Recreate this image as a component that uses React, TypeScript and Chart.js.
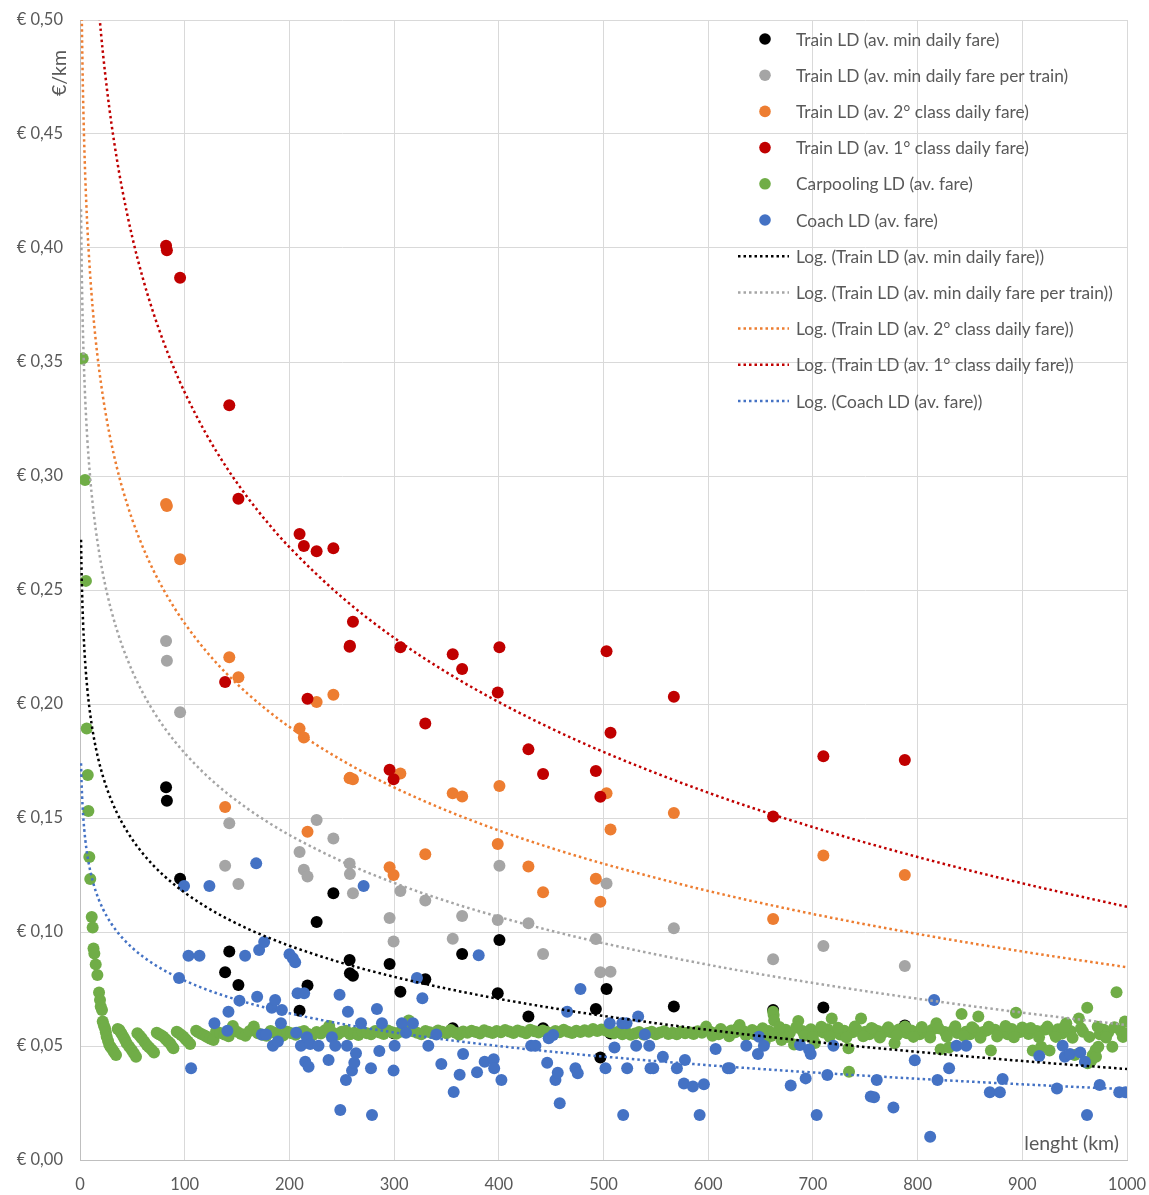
import React, { useEffect, useRef } from "react";
import { Chart, registerables } from "chart.js";

Chart.register(...registerables);

// ---------- DATA ----------
const trainKm = [82.2, 83.0, 95.6, 138.6, 142.6, 151.3, 209.7, 213.8, 217.3, 226.0, 242.0, 257.5, 257.8, 260.7, 295.7, 299.5, 306.0, 329.8, 356.0, 365.0, 399.0, 400.6, 428.3, 442.3, 492.7, 497.0, 502.9, 506.7, 567.2, 662.0, 710.0, 787.8];

const trainMinFare = [0.1635, 0.1576, 0.1234, 0.0823, 0.0914, 0.0768, 0.0655, 0.056, 0.0765, 0.1044, 0.117, 0.0877, 0.0819, 0.0808, 0.086, 0.0556, 0.0738, 0.0793, 0.0578, 0.0904, 0.0731, 0.0965, 0.0629, 0.0578, 0.0662, 0.045, 0.075, 0.0555, 0.0673, 0.0658, 0.0669, 0.059];

const trainMinFarePerTrain = [0.2276, 0.219, 0.1964, 0.1291, 0.1477, 0.1211, 0.1351, 0.1273, 0.1243, 0.1491, 0.141, 0.13, 0.1254, 0.117, 0.1061, 0.0958, 0.118, 0.1138, 0.097, 0.107, 0.1053, 0.1291, 0.1038, 0.0904, 0.0969, 0.0823, 0.1213, 0.0826, 0.1016, 0.088, 0.0939, 0.0851];

const train2ndClassFare = [0.2877, 0.2868, 0.2635, 0.1548, 0.2205, 0.2117, 0.1892, 0.1853, 0.144, 0.2009, 0.2041, 0.1674, 0.1676, 0.167, 0.1284, 0.125, 0.1695, 0.1341, 0.1609, 0.1594, 0.1386, 0.164, 0.1287, 0.1174, 0.1234, 0.1133, 0.1609, 0.145, 0.1522, 0.1057, 0.1336, 0.125];

const train1stClassFare = [0.401, 0.399, 0.387, 0.2096, 0.331, 0.29, 0.2746, 0.2693, 0.2023, 0.267, 0.2683, 0.2251, 0.2255, 0.2361, 0.1712, 0.167, 0.2249, 0.1914, 0.2218, 0.2154, 0.205, 0.2249, 0.1801, 0.1693, 0.1706, 0.1593, 0.2231, 0.1874, 0.2032, 0.1507, 0.1771, 0.1754];

const carpoolPoints: [number, number][] = [
  [2.6, 0.3515], [4.8, 0.2982], [5.7, 0.254], [6.4, 0.1893], [7.4, 0.1689], [8.0, 0.1531], [8.9, 0.1329], [9.8, 0.1232],
  [11.2, 0.1066], [12.1, 0.102], [12.9, 0.0928], [13.7, 0.0906], [15, 0.0858], [16.6, 0.0811], [18.2, 0.0735], [19.1, 0.0702],
  [19.8, 0.0673], [21.0, 0.0658], [21.7, 0.0607], [22.8, 0.059], [23.9, 0.0578], [24.7, 0.056], [25.5, 0.0541], [26.8, 0.0522],
  [28, 0.0504], [29.6, 0.0493], [31.3, 0.0482], [32.8, 0.0472], [34.4, 0.0461], [36.0, 0.0575], [37.6, 0.057], [39.5, 0.0556],
  [41.4, 0.0541], [43, 0.0527], [44.6, 0.0512], [47, 0.0497], [49.4, 0.0482], [51.5, 0.0468], [53.5, 0.0453], [54.8, 0.0556],
  [57, 0.0545], [59, 0.0534], [61.5, 0.0519], [63.8, 0.0504], [66, 0.0494], [68.5, 0.0483], [70.7, 0.0472], [73.3, 0.0558],
  [75.5, 0.0552], [77.5, 0.0547], [79.6, 0.0541], [82, 0.053], [84, 0.052], [86, 0.0512], [87.6, 0.05], [89.2, 0.049],
  [92.4, 0.0563], [94.5, 0.0556], [96.7, 0.0548], [98.8, 0.0541], [101, 0.053], [103, 0.052], [105.2, 0.0509], [110.9, 0.0567],
  [113, 0.056], [116, 0.0553], [119, 0.0546], [121, 0.0541], [124, 0.0533], [127.5, 0.0526],
  [130, 0.0565], [134, 0.0557], [138, 0.055], [142, 0.0543], [146, 0.0588], [150, 0.0562], [154, 0.0553], [158, 0.0545],
  [162, 0.0566], [166, 0.0586], [170, 0.0556], [174, 0.0549], [178, 0.0545], [182, 0.0566], [186, 0.0558], [190, 0.0551],
  [194, 0.0546], [198, 0.0562], [202, 0.0556], [206, 0.0549], [210, 0.056], [214, 0.0566], [218, 0.0553], [222, 0.0547],
  [226, 0.0561], [230, 0.0555], [234, 0.0569], [238, 0.0588], [242, 0.0557], [246, 0.055], [250, 0.0562], [254, 0.0567],
  [258, 0.0552], [262, 0.0558], [266, 0.0548], [270, 0.0563], [274, 0.0556], [278, 0.0551], [282, 0.0566], [286, 0.0559],
  [290, 0.0553], [294, 0.0568], [298, 0.056], [302, 0.0554], [306, 0.0563], [310, 0.0571], [314, 0.0612], [318, 0.0565],
  [322, 0.0558], [326, 0.0551], [330, 0.0566], [334, 0.056], [338, 0.0555], [342, 0.0568], [346, 0.0562], [350, 0.0556],
  [354, 0.057], [358, 0.0559], [362, 0.0549], [366, 0.0564], [370, 0.0558], [374, 0.0567], [378, 0.0561], [382, 0.0555],
  [386, 0.0569], [390, 0.0563], [394, 0.0557], [398, 0.0566], [402, 0.056], [406, 0.057], [410, 0.0564], [414, 0.0557],
  [418, 0.0568], [422, 0.0562], [426, 0.0556], [430, 0.0571], [434, 0.0565], [438, 0.0559], [442, 0.0568], [446, 0.0561],
  [450, 0.0555], [454, 0.0566], [458, 0.056], [462, 0.0571], [466, 0.0563], [470, 0.0557], [474, 0.0567], [478, 0.0561],
  [482, 0.0569], [486, 0.0563], [490, 0.0575], [494, 0.0566], [498, 0.0572], [502, 0.0568], [506, 0.0561], [510, 0.0556],
  [514, 0.0563], [518, 0.0552], [522, 0.0558], [526, 0.0549], [530, 0.0555], [534, 0.0561], [538, 0.055], [542, 0.0557],
  [546, 0.0563], [550, 0.0552], [554, 0.0559], [558, 0.0565], [562, 0.0553], [566, 0.0558], [570, 0.0551], [574, 0.0562],
  [578, 0.0556], [582, 0.056], [586, 0.0553], [590, 0.0565], [594, 0.0558], [598, 0.0585], [602, 0.0562], [606, 0.0556],
  [610, 0.0551], [614, 0.0563], [618, 0.0557], [622, 0.0568], [626, 0.056], [630, 0.0592], [634, 0.0565], [638, 0.0555],
  [642, 0.057], [646, 0.0561], [650, 0.0553], [654, 0.0519], [658, 0.0566], [662, 0.065], [662.5, 0.0636], [663, 0.0612],
  [666, 0.056], [670, 0.0526], [674, 0.0571], [678, 0.0558], [682, 0.0507], [686, 0.061], [690, 0.0566], [694, 0.0552],
  [698, 0.0574], [702, 0.0513], [706, 0.0568], [710, 0.0559], [714, 0.0573], [718, 0.0621], [722, 0.0562], [726, 0.055],
  [730, 0.0567], [734, 0.049], [734.5, 0.0387], [738, 0.056], [742, 0.0571], [746, 0.0621], [750, 0.0563], [754, 0.0552],
  [758, 0.0574], [762, 0.0566], [766, 0.0555], [770, 0.0569], [774, 0.0561], [778, 0.0512], [782, 0.0572], [786, 0.0563],
  [790, 0.0556], [794, 0.0568], [798, 0.0559], [802, 0.0552], [806, 0.0566], [810, 0.0558], [814, 0.0571], [818, 0.06],
  [822, 0.0486], [826, 0.0561], [830, 0.0493], [834, 0.0569], [838, 0.0557], [842, 0.064], [846, 0.0563], [850, 0.0552],
  [854, 0.0574], [858, 0.0629], [862, 0.056], [866, 0.0568], [870, 0.048], [874, 0.0571], [878, 0.0556], [882, 0.0565],
  [886, 0.0552], [890, 0.0575], [894, 0.0646], [898, 0.0561], [902, 0.0569], [906, 0.0553], [910, 0.048], [914, 0.0566],
  [918, 0.0497], [922, 0.0572], [926, 0.048], [930, 0.0561], [934, 0.0574], [938, 0.0555], [942, 0.06], [946, 0.0566],
  [950, 0.046], [954, 0.0621], [958, 0.0563], [962, 0.0668], [966, 0.0439], [970, 0.0482], [974, 0.0552], [978, 0.0571],
  [982, 0.0559], [986, 0.0497], [990, 0.0736], [994, 0.0566], [998, 0.0607],
  [604, 0.0545], [612, 0.0575], [620, 0.0543], [628, 0.0578], [636, 0.0547], [644, 0.0552], [652, 0.0578], [660, 0.0544],
  [668, 0.0583], [676, 0.054], [684, 0.0581], [692, 0.0545], [700, 0.0539], [708, 0.0584], [716, 0.0541], [724, 0.058],
  [732, 0.0538], [740, 0.0585], [748, 0.0543], [756, 0.0579], [764, 0.0537], [772, 0.0582], [780, 0.0546], [788, 0.0586],
  [796, 0.054], [804, 0.0583], [812, 0.0537], [820, 0.0578], [828, 0.0541], [836, 0.0587], [844, 0.0545], [852, 0.0582],
  [860, 0.0536], [868, 0.0584], [876, 0.0542], [884, 0.0588], [892, 0.0538], [900, 0.0581], [908, 0.0579], [916, 0.0538],
  [924, 0.0585], [932, 0.054], [940, 0.0583], [948, 0.0536], [956, 0.0578], [964, 0.054], [972, 0.0584], [980, 0.0537],
  [988, 0.0582], [996, 0.054], [1000, 0.0556],
  [962.4, 0.0424], [965.6, 0.0434], [967.2, 0.046], [970.4, 0.0453], [972.6, 0.0497]
];

const coachPoints: [number, number][] = [
  [94.6, 0.0798], [99.4, 0.1202], [103.6, 0.0896], [106.1, 0.0402], [114.1, 0.0896], [123.6, 0.1202], [128.4, 0.06], [140.8, 0.0567],
  [141.8, 0.065], [152.3, 0.0699], [157.7, 0.0896], [168.3, 0.1301], [169.2, 0.0716], [171.1, 0.0921], [173.7, 0.055], [175.9, 0.0956],
  [177.8, 0.055], [183.2, 0.0668], [184.2, 0.0501], [186.4, 0.0702], [189.0, 0.052], [191.9, 0.06], [192.8, 0.0658], [200.1, 0.0902],
  [203.3, 0.0885], [205.5, 0.0867], [206.5, 0.0558], [207.8, 0.0731], [211.0, 0.0501], [214.1, 0.0731], [215.1, 0.0431], [216.7, 0.0538],
  [218.3, 0.0409], [219.9, 0.0509], [227.8, 0.0501], [237.4, 0.0439], [240.6, 0.0538], [243.8, 0.0501], [247.9, 0.0725], [248.6, 0.0219],
  [254.0, 0.0351], [255.0, 0.0501], [255.9, 0.065], [259.8, 0.0392], [262.0, 0.0427], [263.6, 0.0468], [268.4, 0.06], [270.9, 0.1202],
  [277.9, 0.0402], [278.9, 0.0197], [283.6, 0.0662], [285.9, 0.0478], [288.4, 0.06], [299.5, 0.0392], [300.5, 0.0501], [307.5, 0.06],
  [311.4, 0.0558], [318.0, 0.06], [321.8, 0.0798], [327.0, 0.0709], [332.7, 0.0501], [340.3, 0.055], [345.1, 0.0421], [356.9, 0.0298],
  [362.6, 0.0374], [365.9, 0.0465], [379.2, 0.0385], [380.8, 0.0898], [386.5, 0.0431], [395.1, 0.0442], [395.6, 0.0402], [402.5, 0.0351],
  [430.9, 0.0501], [435.0, 0.0501], [446.2, 0.0427], [447.7, 0.0534], [451.9, 0.0548], [454.1, 0.0351], [456.3, 0.0383], [458.2, 0.0249],
  [465.3, 0.065], [473.2, 0.0402], [475.4, 0.038], [478.0, 0.075], [501.9, 0.0402], [506.0, 0.06], [510.5, 0.0493], [517.9, 0.06],
  [518.8, 0.0197], [522.0, 0.06], [522.6, 0.0402], [531.2, 0.0501], [533.1, 0.0629], [539.5, 0.055], [543.7, 0.0501], [544.9, 0.0402],
  [547.5, 0.0402], [556.7, 0.0453], [570.1, 0.0402], [576.8, 0.0336], [577.8, 0.0439], [585.4, 0.0322], [591.8, 0.0197], [595.9, 0.0332],
  [607.1, 0.0487], [618.8, 0.0402], [620.7, 0.0402], [636.4, 0.0501], [647.5, 0.0465], [648.5, 0.0541], [653.2, 0.0501], [678.8, 0.0327],
  [687.7, 0.0504], [693.1, 0.0358], [696.3, 0.0485], [697.9, 0.0465], [703.6, 0.0197], [713.8, 0.0373], [719.6, 0.0501], [755.3, 0.0278],
  [758.4, 0.0275], [761.0, 0.0351], [776.9, 0.023], [797.3, 0.0437], [812.0, 0.0102], [815.8, 0.0702], [819.0, 0.0351], [830.1, 0.0402],
  [837.2, 0.0501], [846.4, 0.0501], [869.0, 0.0297], [878.6, 0.0297], [881.2, 0.0355], [916.2, 0.0456], [933.1, 0.0314], [938.5, 0.0501],
  [940.7, 0.0453], [945.5, 0.0465], [955.4, 0.0472], [959.8, 0.0431], [961.8, 0.0197], [973.9, 0.0329], [992.6, 0.0297], [998.4, 0.0297]
];

// Logarithmic trendlines (y = a·ln(x) + b), coefficients
const trendSlope = [-0.0336, -0.0518, -0.0655, -0.098, -0.0207];
const trendIntercept = [0.272, 0.417, 0.537, 0.788, 0.174];
const trendKm = [1, 1.25, 1.5, 1.75, 2, 2.5, 3, 3.5, 4, 5, 6, 7, 8, 10, 12, 15, 18, 22, 26, 30, 35, 40, 50, 60, 70, 80, 90, 100, 120, 140, 160, 180, 200, 250, 300, 350, 400, 450, 500, 600, 700, 800, 900, 1000];

const seriesLabels = [
  "Train LD (av. min daily fare)",
  "Train LD (av. min daily fare per train)",
  "Train LD (av. 2° class daily fare)",
  "Train LD (av. 1° class daily fare)",
  "Carpooling LD (av. fare)",
  "Coach LD (av. fare)",
];
const trendLabels = [
  "Log. (Train LD (av. min daily fare))",
  "Log. (Train LD (av. min daily fare per train))",
  "Log. (Train LD (av. 2° class daily fare))",
  "Log. (Train LD (av. 1° class daily fare))",
  "Log. (Coach LD (av. fare))",
];
const yAxisTitle = "€/km";
const xAxisTitle = "lenght (km)";

// ---------- STYLE ----------
const seriesColors = ["#000000", "#a5a5a5", "#ed7d31", "#c00000", "#70ad47", "#4472c4"];
const trendColors = ["#000000", "#a5a5a5", "#ed7d31", "#c00000", "#4472c4"];
const FONT = "Lato, 'Noto Sans', sans-serif";
const TEXT = "#595959";

const W = 1149;
const H = 1195;

const overlayPlugin = {
  id: "overlay",
  afterDraw(chart: any) {
    const ctx = chart.ctx as CanvasRenderingContext2D;
    ctx.save();
    // Axis titles
    ctx.fillStyle = TEXT;
    ctx.font = `19.5px ${FONT}`;
    ctx.textAlign = "center";
    ctx.textBaseline = "middle";
    ctx.save();
    ctx.translate(60, 73);
    ctx.rotate(-Math.PI / 2);
    ctx.fillText(yAxisTitle, 0, 0);
    ctx.restore();
    ctx.textAlign = "right";
    ctx.fillText(xAxisTitle, 1119, 1144);

    // Legend
    const ds = chart.data.datasets;
    ctx.font = `17.3px ${FONT}`;
    ctx.textAlign = "left";
    ctx.textBaseline = "middle";
    for (let i = 0; i < ds.length; i++) {
      const y = 39 + i * 36.2;
      const d = ds[i];
      if (d.showLine) {
        ctx.save();
        ctx.strokeStyle = d.borderColor;
        ctx.lineWidth = 2.5;
        ctx.setLineDash([2.5, 3]);
        ctx.beginPath();
        ctx.moveTo(738, y);
        ctx.lineTo(789, y);
        ctx.stroke();
        ctx.restore();
      } else {
        ctx.fillStyle = d.backgroundColor;
        ctx.beginPath();
        ctx.arc(765, y, 5.8, 0, Math.PI * 2);
        ctx.fill();
      }
      ctx.fillStyle = TEXT;
      ctx.fillText(d.label, 796, y + 1);
    }
    ctx.restore();
  },
};

export default function App() {
  const ref = useRef<HTMLCanvasElement | null>(null);

  useEffect(() => {
    if (!ref.current) return;
    const trainSeries = [trainMinFare, trainMinFarePerTrain, train2ndClassFare, train1stClassFare];
    const pointDatasets: any[] = trainSeries.map((vals, i) => ({
      type: "scatter",
      label: seriesLabels[i],
      data: trainKm.map((x, j) => ({ x, y: vals[j] })),
      backgroundColor: seriesColors[i],
      borderColor: seriesColors[i],
      pointRadius: 6,
      pointBorderWidth: 0,
      showLine: false,
      order: 6 - i,
    }));
    pointDatasets.push({
      type: "scatter",
      label: seriesLabels[4],
      data: carpoolPoints.map(([x, y]) => ({ x, y })),
      backgroundColor: seriesColors[4],
      borderColor: seriesColors[4],
      pointRadius: 6,
      pointBorderWidth: 0,
      showLine: false,
      order: 2,
    });
    pointDatasets.push({
      type: "scatter",
      label: seriesLabels[5],
      data: coachPoints.map(([x, y]) => ({ x, y })),
      backgroundColor: seriesColors[5],
      borderColor: seriesColors[5],
      pointRadius: 6,
      pointBorderWidth: 0,
      showLine: false,
      order: 1,
    });
    const trendDatasets = trendLabels.map((label, i) => ({
      type: "line",
      label,
      data: trendKm.map((x) => ({ x, y: trendSlope[i] * Math.log(x) + trendIntercept[i] })),
      borderColor: trendColors[i],
      backgroundColor: trendColors[i],
      borderWidth: 2.5,
      borderDash: [2.5, 3],
      pointRadius: 0,
      showLine: true,
      fill: false,
      cubicInterpolationMode: "monotone",
      order: 0,
    }));

    const chart = new Chart(ref.current, {
      type: "scatter",
      data: { datasets: [...pointDatasets, ...trendDatasets] as any },
      options: {
        animation: false,
        responsive: false,
        devicePixelRatio: 1,
        layout: { padding: { left: 0, right: 22, top: 20, bottom: 0 } },
        plugins: { legend: { display: false }, tooltip: { enabled: false } },
        scales: {
          x: {
            type: "linear",
            min: 0,
            max: 1000,
            ticks: {
              stepSize: 100,
              color: TEXT,
              font: { family: FONT, size: 16.5 },
              padding: 15,
              maxRotation: 0,
              callback: (v: any) => String(Math.round(Number(v))),
            },
            grid: { color: "#d9d9d9", drawTicks: false, lineWidth: 1 },
            border: { color: "#bfbfbf", width: 1 },
            afterFit: (s: any) => {
              s.height = 35;
              s.paddingLeft = 0;
              s.paddingRight = 0;
            },
          },
          y: {
            type: "linear",
            min: 0,
            max: 0.5,
            ticks: {
              stepSize: 0.05,
              color: TEXT,
              font: { family: FONT, size: 16.5 },
              padding: 17,
              callback: (v: any) => "€ " + Number(v).toFixed(2).replace(".", ","),
            },
            grid: { color: "#d9d9d9", drawTicks: false, lineWidth: 1 },
            border: { color: "#bfbfbf", width: 1 },
            afterFit: (s: any) => {
              s.width = 80;
              s.paddingTop = 0;
              s.paddingBottom = 0;
            },
          },
        },
      },
      plugins: [overlayPlugin],
    } as any);
    return () => chart.destroy();
  }, []);

  return (
    <div style={{ position: "absolute", left: 0, top: 0, width: W, height: H, background: "#fff" }}>
      <canvas ref={ref} width={W} height={H} style={{ display: "block", width: W, height: H }} />
    </div>
  );
}
